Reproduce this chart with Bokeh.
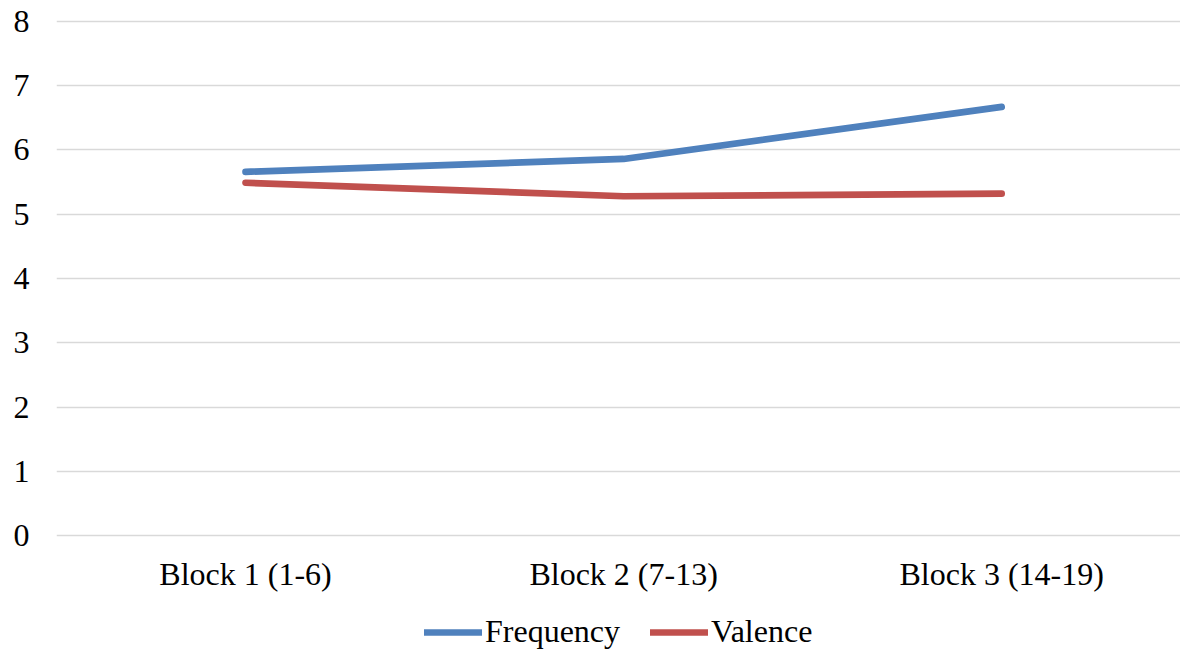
from bokeh.plotting import figure
from bokeh.models import Range1d, FixedTicker, Legend, LegendItem
from bokeh.layouts import column
from bokeh.embed import file_html
from bokeh.resources import INLINE

categories = ["Block 1 (1-6)", "Block 2 (7-13)", "Block 3 (14-19)"]
frequency = [5.66, 5.86, 6.67]
valence = [5.49, 5.28, 5.32]
series_names = ["Frequency", "Valence"]
series_colors = ["#4F81BD", "#C0504D"]
y_ticks = [0, 1, 2, 3, 4, 5, 6, 7, 8]

xs = list(range(len(categories)))
FONT = "Liberation Serif"

p = figure(width=1180, height=608, output_backend="svg", toolbar_location=None,
           x_range=Range1d(-0.5, 2.473), y_range=Range1d(-0.03, 8.03),
           min_border_left=56, min_border_right=0, min_border_top=19,
           min_border_bottom=71)
p.outline_line_color = None
p.background_fill_color = "white"
p.border_fill_color = "white"

for vals, col in zip([frequency, valence], series_colors):
    p.line(xs, vals, line_color=col, line_width=6.7, line_cap="round", line_join="round")

p.xgrid.visible = False
p.ygrid.grid_line_color = "#D9D9D9"
p.ygrid.grid_line_width = 1.5

p.yaxis.ticker = FixedTicker(ticks=y_ticks)
p.xaxis.ticker = FixedTicker(ticks=xs)
p.xaxis.major_label_overrides = {i: c for i, c in enumerate(categories)}
for ax in (p.xaxis[0], p.yaxis[0]):
    ax.axis_line_color = None
    ax.major_tick_line_color = None
    ax.minor_tick_line_color = None
    ax.major_label_text_font = FONT
    ax.major_label_text_font_size = "32px"
    ax.major_label_text_color = "black"
p.yaxis.major_label_standoff = 21
p.xaxis.major_label_standoff = 12

# legend strip (series drawn out of its visible range, only the legend shows)
lg = figure(width=1180, height=42, output_backend="svg", toolbar_location=None,
            x_range=Range1d(0, 1), y_range=Range1d(100, 101),
            x_axis_location=None, y_axis_location=None,
            min_border_left=0, min_border_right=0, min_border_top=0, min_border_bottom=0)
lg.outline_line_color = None
lg.grid.visible = False
items = []
for name, vals, col in zip(series_names, [frequency, valence], series_colors):
    r = lg.line(xs, vals, line_color=col, line_width=6.7, line_cap="round")
    items.append(LegendItem(label=name, renderers=[r]))
legend = Legend(items=items, orientation="horizontal", location=(368, 0),
                label_text_font=FONT, label_text_font_size="32px",
                label_text_color="black",
                glyph_width=58, glyph_height=30, label_standoff=3, spacing=30,
                border_line_color=None, background_fill_alpha=0,
                padding=0, margin=0)
lg.add_layout(legend, "center")

layout = column(p, lg, spacing=0)
open("out.html", "w").write(file_html(layout, INLINE))
